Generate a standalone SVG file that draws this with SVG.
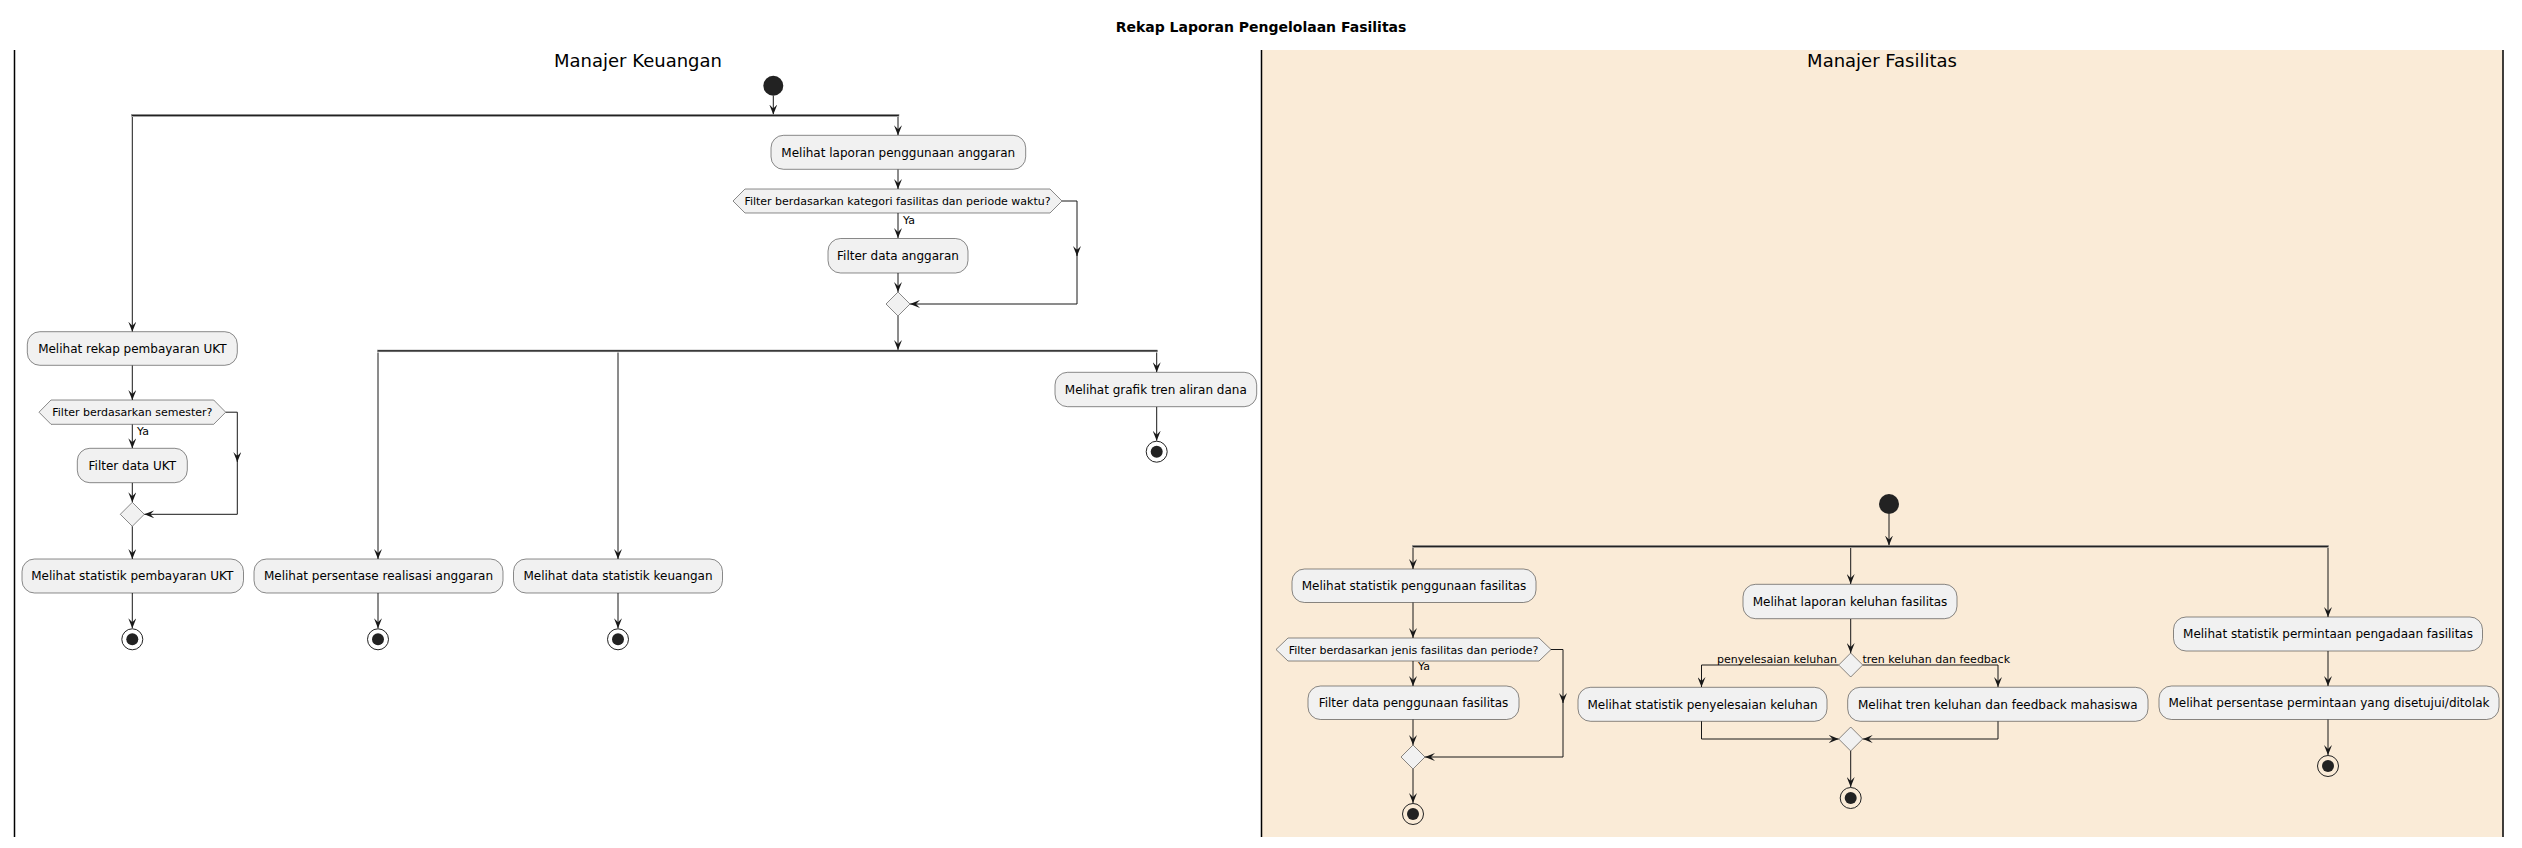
<svg xmlns="http://www.w3.org/2000/svg" width="2522" height="848" viewBox="0 0 2522 848">
<style>
text{font-family:"DejaVu Sans","Liberation Sans",sans-serif;fill:#000}
.title{font-size:14px;font-weight:bold}
.lane{font-size:18px}
.act rect{fill:#F1F1F1;stroke:#181818;stroke-width:0.5}
.act text{font-size:12px;text-anchor:middle}
.hex polygon{fill:#F1F1F1;stroke:#181818;stroke-width:0.5}
.hex text{font-size:11px;text-anchor:middle}
.dia{fill:#F1F1F1;stroke:#181818;stroke-width:0.5}
.lbl{font-size:11px}
.conn path{fill:none;stroke:#181818;stroke-width:1;marker-end:url(#ah)}
.bar{fill:#222222;stroke:#888888;stroke-width:0.5}
.start{fill:#222222}
.endo{fill:none;stroke:#222222;stroke-width:1}
.endi{fill:#222222}
.lline{stroke:#000;stroke-width:1.5}
</style>
<defs>
<marker id="ah" markerUnits="userSpaceOnUse" markerWidth="10" markerHeight="8" refX="10" refY="4" orient="auto" viewBox="0 0 10 8">
<path d="M0,0 L10,4 L0,8 L4,4 Z" fill="#181818"/>
</marker>
</defs>
<rect x="0" y="0" width="2522" height="848" fill="#FFFFFF"/>
<text class="title" x="1261" y="32" text-anchor="middle">Rekap Laporan Pengelolaan Fasilitas</text>
<rect x="1261.5" y="50" width="1241.5" height="787" fill="#FAEBD7"/>
<line class="lline" x1="14.5" y1="50" x2="14.5" y2="837"/>
<line class="lline" x1="1261.5" y1="50" x2="1261.5" y2="837"/>
<line class="lline" x1="2503" y1="50" x2="2503" y2="837"/>
<text class="lane" x="638" y="67" text-anchor="middle">Manajer Keuangan</text>
<text class="lane" x="1882" y="67" text-anchor="middle">Manajer Fasilitas</text>

<g id="conn" class="conn">
<path d="M773.3,95.7 L773.3,114.5"/>
<path d="M132.3,117 L132.3,331.7"/>
<path d="M132.3,365.3 L132.3,400"/>
<path d="M132.3,424.3 L132.3,448.3"/>
<path d="M132.3,482.7 L132.3,502.3"/>
<path d="M225.7,412.2 L237.3,412.2 L237.3,462"/>
<path d="M237.3,455 L237.3,514.3 L144.3,514.3"/>
<path d="M132.3,526.3 L132.3,559"/>
<path d="M132.3,593 L132.3,628.3"/>
<path d="M898,117 L898,135.3"/>
<path d="M898,169.3 L898,189"/>
<path d="M898,213 L898,238"/>
<path d="M898,273 L898,292"/>
<path d="M1062,201 L1077,201 L1077,256"/>
<path d="M1077,249 L1077,304 L910,304"/>
<path d="M898,316 L898,350"/>
<path d="M378,352.5 L378,559"/>
<path d="M618,352.5 L618,559"/>
<path d="M1156.7,352.5 L1156.7,372.3"/>
<path d="M378,593 L378,628.3"/>
<path d="M618,593 L618,628.3"/>
<path d="M1156.7,406.7 L1156.7,440.7"/>
<path d="M1889,514 L1889,545.5"/>
<path d="M1413,548 L1413,569"/>
<path d="M1413,602 L1413,638"/>
<path d="M1413,661 L1413,686"/>
<path d="M1413,719 L1413,745"/>
<path d="M1551,649.5 L1563,649.5 L1563,703"/>
<path d="M1563,696 L1563,757 L1425,757"/>
<path d="M1413,769 L1413,803"/>
<path d="M1850.7,548 L1850.7,584"/>
<path d="M1850.7,619 L1850.7,653"/>
<path d="M1838.7,665 L1701.5,665 L1701.5,687"/>
<path d="M1862.7,665 L1998,665 L1998,687"/>
<path d="M1701.5,721 L1701.5,739 L1838.7,739"/>
<path d="M1998,721 L1998,739 L1862.7,739"/>
<path d="M1850.7,751 L1850.7,787"/>
<path d="M2328,548 L2328,617"/>
<path d="M2328,651 L2328,686"/>
<path d="M2328,719 L2328,755"/>
</g>

<g id="start1"><circle class="start" cx="773.3" cy="85.7" r="10"/></g>
<g id="fork1"><rect class="bar" x="131.5" y="114.5" width="767.5" height="1.8"/></g>
<g id="a_rekap_ukt" class="act"><rect x="27.3" y="331.7" width="210" height="33.6" rx="12.5"/><text x="132.3" y="352.8">Melihat rekap pembayaran UKT</text></g>
<g id="d_semester" class="hex"><polygon points="39,412.2 51,400 213.7,400 225.7,412.2 213.7,424.3 51,424.3"/><text x="132.3" y="416.2">Filter berdasarkan semester?</text></g>
<text class="lbl" x="137" y="435">Ya</text>
<g id="a_filter_ukt" class="act"><rect x="77.3" y="448.3" width="110" height="34.4" rx="12.5"/><text x="132.3" y="469.6">Filter data UKT</text></g>
<g id="m_semester"><polygon class="dia" points="132.3,502.3 144.3,514.3 132.3,526.3 120.3,514.3"/></g>
<g id="a_stat_ukt" class="act"><rect x="22" y="559" width="221.5" height="34" rx="12.5"/><text x="132.3" y="580.2">Melihat statistik pembayaran UKT</text></g>
<g id="end_ukt"><circle class="endo" cx="132.3" cy="639.3" r="10.5"/><circle class="endi" cx="132.3" cy="639.3" r="6"/></g>

<g id="a_lap_anggaran" class="act"><rect x="771" y="135.3" width="254.7" height="34" rx="12.5"/><text x="898.3" y="156.5">Melihat laporan penggunaan anggaran</text></g>
<g id="d_kategori" class="hex"><polygon points="733,201 745,189 1050,189 1062,201 1050,213 745,213"/><text x="897.5" y="205">Filter berdasarkan kategori fasilitas dan periode waktu?</text></g>
<text class="lbl" x="903" y="224">Ya</text>
<g id="a_filter_anggaran" class="act"><rect x="828" y="238.5" width="140" height="34.5" rx="12.5"/><text x="898" y="259.8">Filter data anggaran</text></g>
<g id="m_kategori"><polygon class="dia" points="898,292 910,304 898,316 886,304"/></g>
<g id="fork2"><rect class="bar" x="377.5" y="350" width="780" height="1.8"/></g>
<g id="a_realisasi" class="act"><rect x="254" y="559" width="249" height="34" rx="12.5"/><text x="378.5" y="580.2">Melihat persentase realisasi anggaran</text></g>
<g id="end_realisasi"><circle class="endo" cx="378" cy="639.3" r="10.5"/><circle class="endi" cx="378" cy="639.3" r="6"/></g>
<g id="a_statistik_keu" class="act"><rect x="513.5" y="559" width="209" height="34" rx="12.5"/><text x="618" y="580.2">Melihat data statistik keuangan</text></g>
<g id="end_statistik_keu"><circle class="endo" cx="618" cy="639.3" r="10.5"/><circle class="endi" cx="618" cy="639.3" r="6"/></g>
<g id="a_grafik" class="act"><rect x="1055" y="372.3" width="201.7" height="34.4" rx="12.5"/><text x="1155.8" y="393.6">Melihat grafik tren aliran dana</text></g>
<g id="end_grafik"><circle class="endo" cx="1156.7" cy="451.7" r="10.5"/><circle class="endi" cx="1156.7" cy="451.7" r="6"/></g>

<g id="start2"><circle class="start" cx="1889" cy="504" r="10"/></g>
<g id="fork3"><rect class="bar" x="1412.5" y="545.5" width="916" height="1.8"/></g>
<g id="a_stat_penggunaan" class="act"><rect x="1292" y="569" width="244" height="33.5" rx="12.5"/><text x="1414" y="590">Melihat statistik penggunaan fasilitas</text></g>
<g id="d_jenis" class="hex"><polygon points="1276,649.5 1288,638 1539,638 1551,649.5 1539,661 1288,661"/><text x="1413.5" y="653.5">Filter berdasarkan jenis fasilitas dan periode?</text></g>
<text class="lbl" x="1418" y="670">Ya</text>
<g id="a_filter_penggunaan" class="act"><rect x="1308" y="686" width="211" height="33.5" rx="12.5"/><text x="1413.5" y="707">Filter data penggunaan fasilitas</text></g>
<g id="m_jenis"><polygon class="dia" points="1413,745 1425,757 1413,769 1401,757"/></g>
<g id="end_penggunaan"><circle class="endo" cx="1413" cy="814" r="10.5"/><circle class="endi" cx="1413" cy="814" r="6"/></g>

<g id="a_lap_keluhan" class="act"><rect x="1743" y="584.3" width="214" height="34.4" rx="12.5"/><text x="1850" y="605.6">Melihat laporan keluhan fasilitas</text></g>
<g id="d_keluhan"><polygon class="dia" points="1850.7,653 1862.7,665 1850.7,677 1838.7,665"/></g>
<text class="lbl" x="1837" y="663" text-anchor="end">penyelesaian keluhan</text>
<text class="lbl" x="1862.5" y="663">tren keluhan dan feedback</text>
<g id="a_penyelesaian" class="act"><rect x="1578" y="687.3" width="249" height="34" rx="12.5"/><text x="1702.5" y="708.5">Melihat statistik penyelesaian keluhan</text></g>
<g id="a_tren" class="act"><rect x="1847.7" y="687.3" width="300.3" height="34" rx="12.5"/><text x="1997.8" y="708.5">Melihat tren keluhan dan feedback mahasiswa</text></g>
<g id="m_keluhan"><polygon class="dia" points="1850.7,727 1862.7,739 1850.7,751 1838.7,739"/></g>
<g id="end_keluhan"><circle class="endo" cx="1850.7" cy="798" r="10.5"/><circle class="endi" cx="1850.7" cy="798" r="6"/></g>

<g id="a_stat_permintaan" class="act"><rect x="2173.5" y="617" width="309" height="34" rx="12.5"/><text x="2328" y="638.2">Melihat statistik permintaan pengadaan fasilitas</text></g>
<g id="a_persen_permintaan" class="act"><rect x="2159" y="686" width="340" height="33.5" rx="12.5"/><text x="2329" y="707">Melihat persentase permintaan yang disetujui/ditolak</text></g>
<g id="end_permintaan"><circle class="endo" cx="2328" cy="766" r="10.5"/><circle class="endi" cx="2328" cy="766" r="6"/></g>
</svg>
